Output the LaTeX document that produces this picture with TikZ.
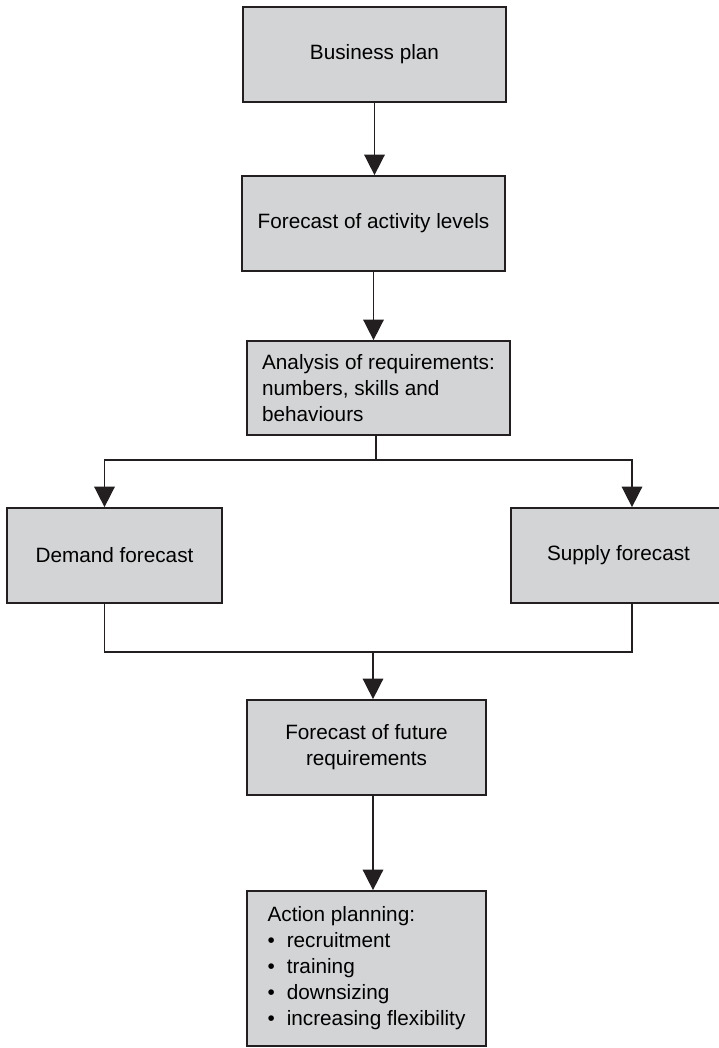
\documentclass[tikz,border=0pt]{standalone}
\usepackage{fontspec}
\setmainfont{Liberation Sans}
\usetikzlibrary{arrows.meta}
\definecolor{boxgrey}{RGB}{211,212,214}
\definecolor{ink}{RGB}{35,31,32}
\newcommand{\bul}{\textbullet\hspace{0.24cm}}

\begin{document}
\begin{tikzpicture}[x=0.02cm,y=-0.02cm,
    box/.style={fill=boxgrey,draw=ink,line width=1pt,inner sep=0pt,
      font=\fontsize{11.8}{14.8}\selectfont},
    >={Triangle[width=0.41cm,length=0.41cm]}]
      \clip (0,0) rectangle (719,1048);
      \draw
        (374.5,54.5) node[box,minimum width=5.26cm,minimum height=1.9cm] (0){Business plan}
        (373.5,223.5) node[box,minimum width=5.26cm,minimum height=1.9cm] (1){Forecast of activity levels}
        (378.5,388) node[box,minimum width=5.26cm,minimum height=1.88cm,align=left] (2){Analysis of requirements:\\numbers, skills and\\behaviours}
        (114.5,555.5) node[box,minimum width=4.3cm,minimum height=1.9cm] (3){Demand forecast}
        (618.5,555.5) node[box,minimum width=4.3cm,minimum height=1.9cm] (4){Supply forecast}
        (366.5,747.5) node[box,minimum width=4.78cm,minimum height=1.9cm,align=center] (5){Forecast of future\\requirements}
        (366.5,968.5) node[box,minimum width=4.78cm,minimum height=3.1cm,align=left] (6){Action planning:\\\bul recruitment\\\bul training\\\bul downsizing\\\bul increasing flexibility};
      \coordinate (split) at (376,460);
      \coordinate (merge) at (373,652);
      \begin{scope}[draw=ink,line width=0.9pt]
        \draw[->] (0) to (0.south |- 1.north);
        \draw[->] (1) to (1.south |- 2.north);
        \draw (2.south -| split) to (split);
        \draw[->] (split) -| ([xshift=-0.2cm]3.north);
        \draw[->] (split) -| ([xshift=0.27cm]4.north);
        \draw ([xshift=-0.2cm]3.south) |- (merge) -| ([xshift=0.27cm]4.south);
        \draw[->] (merge) to (merge |- 5.north);
        \draw[->] (5.south -| merge) to (merge |- 6.north);
      \end{scope}
    \end{tikzpicture}
\end{document}
